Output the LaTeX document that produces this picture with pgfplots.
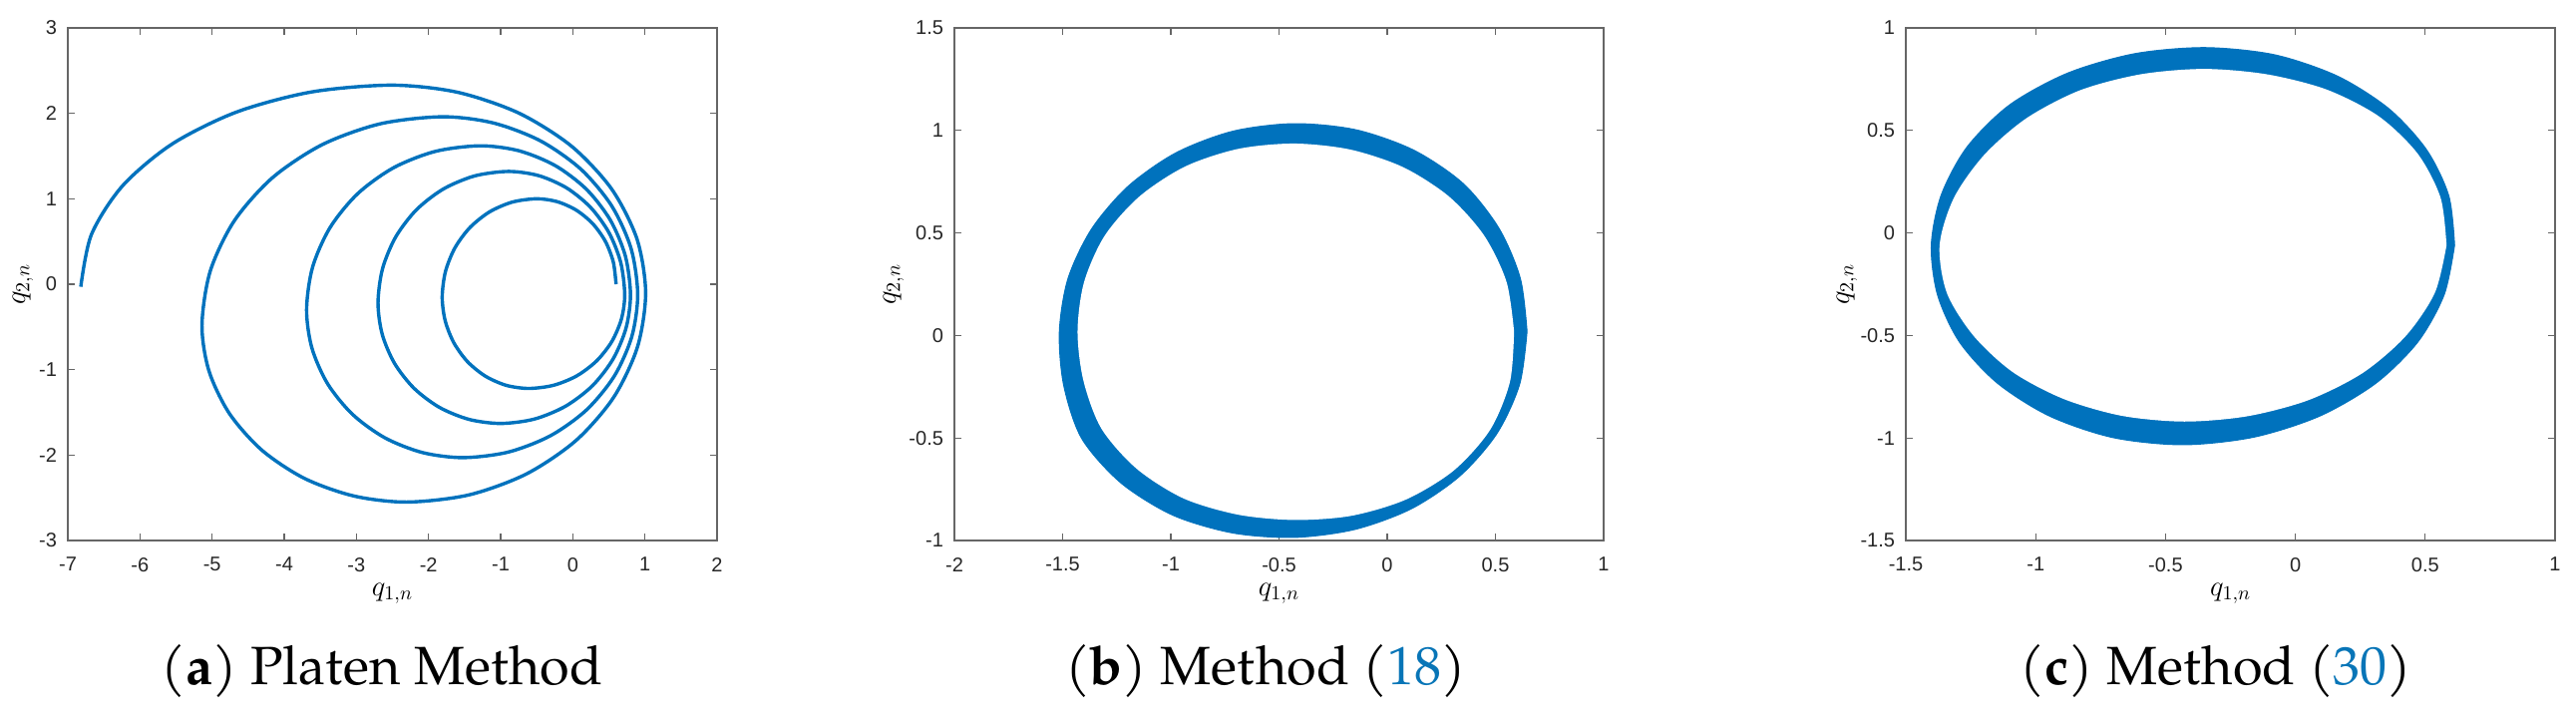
\documentclass[border=0pt]{standalone}
\usepackage{fontspec}
\setmainfont{TeX Gyre Pagella}
\newfontfamily\ticksf{Liberation Sans}
\usepackage{pgfplots}
\pgfplotsset{compat=1.18}

\definecolor{mblue}{RGB}{0,114,189}
\definecolor{linkblue}{RGB}{8,117,183}

% 1 px of the reference = 0.5pt
\pgfplotsset{
  mstyle/.style={
    scale only axis, width=325.5pt, height=257pt,
    axis line style={black!60, line width=0.6pt},
    every tick/.style={black!60, line width=0.6pt},
    tick align=inside, major tick length=3.5pt,
    ticklabel style={font=\ticksf\fontsize{10}{10}\selectfont, text=black!85},
    /pgf/number format/assume math mode=true,
    xticklabel style={yshift=-5pt},
    yticklabel style={xshift=-2pt},
    label style={font=\fontsize{14}{14}\selectfont},
    xlabel={$q_{1,n}$}, ylabel={$q_{2,n}$},
    xlabel style={at={(axis description cs:0.5,-0.1031)}, anchor=center},
  },
}

\begin{document}
\begin{tikzpicture}
\path[use as bounding box] (0,0) rectangle (1291.5pt,359pt);

% (a) Platen method: outward spiral
\begin{axis}[mstyle, at={(34pt,88pt)}, anchor=south west,
    xmin=-7, xmax=2, ymin=-3, ymax=3,
    xtick={-7,-6,...,2}, ytick={-3,-2,...,3},
    ylabel style={at={(axis description cs:-0.0691,0.5)}, anchor=center}]
  \addplot[mblue, line width=1.7pt, smooth] coordinates {
    (0.600,0.000) (0.562,0.259) (0.453,0.500) (0.278,0.707) (0.050,0.866) (-0.215,0.966)
    (-0.500,1.000) (-0.839,0.961) (-1.155,0.846) (-1.426,0.663) (-1.634,0.425) (-1.765,0.148)
    (-1.810,-0.150) (-1.769,-0.427) (-1.649,-0.685) (-1.459,-0.907) (-1.210,-1.077) (-0.921,-1.184)
    (-0.610,-1.220) (-0.266,-1.183) (0.055,-1.073) (0.330,-0.898) (0.542,-0.670) (0.675,-0.405)
    (0.720,-0.120) (0.665,0.253) (0.504,0.600) (0.248,0.898) (-0.085,1.127) (-0.473,1.271)
    (-0.890,1.320) (-1.358,1.268) (-1.795,1.114) (-2.170,0.869) (-2.457,0.550) (-2.638,0.179)
    (-2.700,-0.220) (-2.642,-0.585) (-2.472,-0.925) (-2.202,-1.217) (-1.850,-1.441) (-1.440,-1.582)
    (-1.000,-1.630) (-0.534,-1.579) (-0.100,-1.428) (0.273,-1.188) (0.559,-0.875) (0.739,-0.511)
    (0.800,-0.120) (0.729,0.330) (0.521,0.750) (0.191,1.110) (-0.240,1.387) (-0.742,1.561)
    (-1.280,1.620) (-1.904,1.555) (-2.485,1.363) (-2.984,1.058) (-3.367,0.660) (-3.608,0.197)
    (-3.690,-0.300) (-3.616,-0.748) (-3.399,-1.165) (-3.054,-1.523) (-2.605,-1.798) (-2.082,-1.971)
    (-1.520,-2.030) (-0.894,-1.965) (-0.310,-1.774) (0.191,-1.471) (0.576,-1.075) (0.818,-0.614)
    (0.900,-0.120) (0.808,0.418) (0.537,0.920) (0.106,1.351) (-0.455,1.681) (-1.109,1.889)
    (-1.810,1.960) (-2.672,1.877) (-3.475,1.633) (-4.165,1.245) (-4.694,0.740) (-5.026,0.152)
    (-5.140,-0.480) (-5.043,-1.016) (-4.759,-1.515) (-4.308,-1.944) (-3.720,-2.273) (-3.035,-2.479)
    (-2.300,-2.550) (-1.443,-2.467) (-0.645,-2.222) (0.041,-1.832) (0.566,-1.325) (0.897,-0.734)
    (1.010,-0.100) (0.890,0.529) (0.538,1.115) (-0.021,1.618) (-0.750,2.004) (-1.599,2.247)
    (-2.510,2.330) (-3.625,2.250) (-4.665,2.014) (-5.558,1.639) (-6.243,1.150) (-6.673,0.581)
    (-6.820,-0.030)};
\end{axis}

% (b) Method (18): noisy ring
\begin{axis}[mstyle, at={(478.5pt,88pt)}, anchor=south west,
    xmin=-2, xmax=1, ymin=-1, ymax=1.5,
    xtick={-2,-1.5,...,1}, ytick={-1,-0.5,...,1.5},
    ylabel style={at={(axis description cs:-0.0937,0.5)}, anchor=center}]
  \addplot[fill=mblue, draw=mblue, line width=0.5pt, smooth] coordinates {
    (0.646,0.020) (0.615,0.278) (0.516,0.523) (0.352,0.740)
    (0.124,0.903) (-0.144,1.003) (-0.430,1.033) (-0.714,0.996)
    (-0.976,0.891) (-1.198,0.727) (-1.367,0.518) (-1.475,0.278)
    (-1.515,0.020) (-1.495,-0.243) (-1.412,-0.502) (-1.232,-0.718)
    (-0.992,-0.876) (-0.716,-0.963) (-0.430,-0.985) (-0.149,-0.946)
    (0.112,-0.845) (0.336,-0.685) (0.507,-0.478) (0.612,-0.237)
    (0.646,0.020)} -- cycle;
  \addplot[fill=white, draw=none, smooth] coordinates {
    (0.586,0.020) (0.551,0.262) (0.448,0.487) (0.285,0.678)
    (0.073,0.821) (-0.172,0.907) (-0.430,0.936) (-0.689,0.910)
    (-0.934,0.824) (-1.145,0.678) (-1.306,0.486) (-1.401,0.260)
    (-1.431,0.020) (-1.404,-0.220) (-1.321,-0.454) (-1.158,-0.650)
    (-0.941,-0.795) (-0.690,-0.874) (-0.430,-0.900) (-0.168,-0.880)
    (0.085,-0.801) (0.307,-0.659) (0.475,-0.461) (0.567,-0.226)
    (0.586,0.020)} -- cycle;
\end{axis}

% (c) Method (30): noisy ring
\begin{axis}[mstyle, at={(955.5pt,88pt)}, anchor=south west,
    xmin=-1.5, xmax=1, ymin=-1.5, ymax=1,
    xtick={-1.5,-1,...,1}, ytick={-1.5,-1,...,1},
    ylabel style={at={(axis description cs:-0.0906,0.5)}, anchor=center}]
  \addplot[fill=mblue, draw=mblue, line width=0.5pt, smooth] coordinates {
    (0.613,-0.060) (0.591,0.180) (0.505,0.406) (0.360,0.606)
    (0.162,0.765) (-0.080,0.869) (-0.348,0.904) (-0.620,0.874)
    (-0.878,0.779) (-1.101,0.624) (-1.265,0.418) (-1.364,0.184)
    (-1.402,-0.060) (-1.378,-0.302) (-1.294,-0.531) (-1.148,-0.732)
    (-0.947,-0.893) (-0.703,-0.998) (-0.433,-1.033) (-0.160,-0.996)
    (0.094,-0.893) (0.310,-0.733) (0.472,-0.531) (0.573,-0.301)
    (0.613,-0.060)} -- cycle;
  \addplot[fill=white, draw=none, smooth] coordinates {
    (0.582,-0.060) (0.559,0.172) (0.470,0.388) (0.320,0.570)
    (0.119,0.700) (-0.111,0.774) (-0.352,0.800) (-0.595,0.774)
    (-0.829,0.696) (-1.035,0.560) (-1.198,0.381) (-1.315,0.171)
    (-1.370,-0.060) (-1.342,-0.293) (-1.239,-0.502) (-1.088,-0.679)
    (-0.892,-0.810) (-0.668,-0.892) (-0.428,-0.920) (-0.185,-0.894)
    (0.049,-0.816) (0.258,-0.684) (0.424,-0.504) (0.537,-0.292)
    (0.582,-0.060)} -- cycle;
\end{axis}

\node[font=\fontsize{27}{30}\selectfont] at (191.5pt,22.5pt) {(\textbf{a}) Platen Method};
\node[font=\fontsize{27}{30}\selectfont] at (634.5pt,22.5pt) {(\textbf{b}) Method (\textcolor{linkblue}{18})};
\node[font=\fontsize{27}{30}\selectfont] at (1111pt,22.5pt) {(\textbf{c}) Method (\textcolor{linkblue}{30})};
\end{tikzpicture}
\end{document}
